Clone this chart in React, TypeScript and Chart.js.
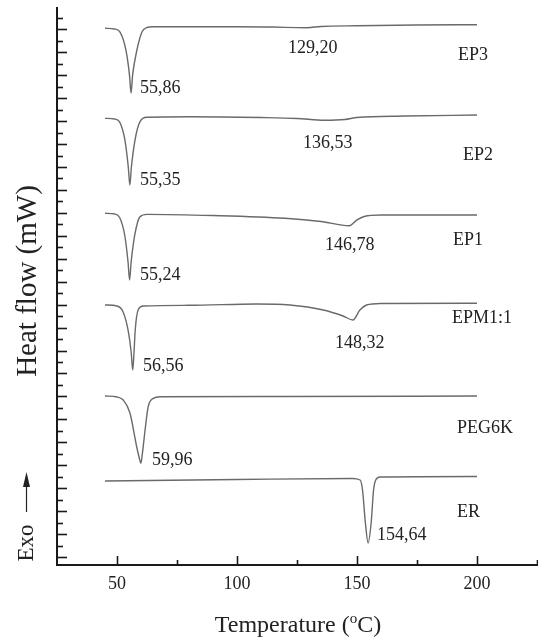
import React, { useEffect, useRef } from "react";
import { Chart, registerables } from "chart.js";
Chart.register(...registerables);

// ---- data (temperature in °C, heat flow in arbitrary mW offset units) ----
const seriesNames = ["EP3", "EP2", "EP1", "EPM1:1", "PEG6K", "ER"];

const ep3T = [45, 49, 51.2, 53.7, 55.2, 55.86, 56.5, 58.3, 60.4, 62.5, 65, 80, 100, 115, 125, 129.2, 135, 150, 175, 200];
const ep3Y = [46.79, 46.73, 46.47, 44.9, 42.71, 41.15, 42.71, 44.9, 46.47, 46.86, 46.92, 46.93, 46.93, 46.9, 46.85, 46.84, 46.95, 47.01, 47.08, 47.1];

const ep2T = [45, 49, 51.25, 53.3, 54.7, 55.35, 56.0, 57.5, 59.6, 62.5, 80, 110, 125, 136.5, 145, 150, 170, 200];
const ep2Y = [38.94, 38.88, 38.56, 37.05, 34.7, 33.13, 34.7, 37.05, 38.65, 39.03, 39.08, 39.01, 38.93, 38.77, 38.84, 39.01, 39.14, 39.23];

const ep1T = [45, 49, 51.1, 53.2, 54.6, 55.24, 55.9, 57.4, 59.5, 62.5, 90, 120, 135, 146.78, 150, 153, 160, 200];
const ep1Y = [30.66, 30.6, 30.29, 28.77, 26.42, 24.85, 26.42, 28.77, 30.34, 30.57, 30.47, 30.23, 29.95, 29.58, 30.08, 30.38, 30.51, 30.51];

const epmT = [45, 50, 52.5, 54.6, 55.9, 56.56, 57.1, 57.6, 58.8, 61, 80, 108, 122, 136, 144.2, 148.32, 151.2, 154, 160, 200];
const epmY = [22.67, 22.58, 22.08, 20.49, 18.57, 17.0, 18.57, 20.49, 22.23, 22.58, 22.64, 22.76, 22.67, 22.23, 21.71, 21.36, 22.23, 22.67, 22.8, 22.82];

const pegT = [45, 50, 52.6, 55.4, 58.2, 59.5, 59.96, 60.5, 61.7, 63.0, 65.1, 68, 120, 200];
const pegY = [14.73, 14.65, 14.38, 13.25, 10.31, 9.15, 8.87, 9.59, 11.77, 13.8, 14.53, 14.67, 14.69, 14.73];

const erT = [45, 100, 148, 151.3, 152.3, 153.5, 154.64, 155.9, 156.9, 157.8, 159.5, 200];
const erY = [7.32, 7.45, 7.54, 7.41, 6.54, 3.66, 1.92, 3.66, 6.54, 7.41, 7.67, 7.72];

const seriesT = [ep3T, ep2T, ep1T, epmT, pegT, erT];
const seriesY = [ep3Y, ep2Y, ep1Y, epmY, pegY, erY];

// peak annotations (text, anchor temperature, anchor heat flow)
const peakText = ["55,86", "129,20", "55,35", "136,53", "55,24", "146,78", "56,56", "148,32", "59,96", "154,64"];
const peakLabelT = [59.58, 121.25, 59.58, 127.5, 59.58, 136.67, 60.83, 140.83, 64.58, 158.33];
const peakLabelY = [41.59, 45.07, 33.56, 36.76, 25.28, 27.9, 17.29, 19.33, 9.15, 2.62];

// series name anchors
const nameT = [192.08, 194.17, 190, 189.58, 191.67, 191.67];
const nameY = [44.46, 35.74, 28.33, 21.51, 11.94, 4.62];

// axis ticks
const xMajorTicks = [50, 100, 150, 200];
const xMinorTicks = [75, 125, 175, 225];
const xMin = 25;
const xMax = 225;
const yMin = 0;
const yMax = 48.56;
const yTickStart = 0.7;
const yTickCount = 48;

const SERIF = '"Liberation Serif", "Times New Roman", serif';
const TEXT = "#222222";
const AXIS = "#1a1a1a";
const CURVE = "#6a6a6a";

const decorPlugin = {
  id: "decor",
  afterDraw(chart: any) {
    const { ctx, chartArea, scales } = chart;
    const xs = scales.x;
    const ys = scales.y;
    ctx.save();
    ctx.strokeStyle = AXIS;
    ctx.lineWidth = 1.6;
    // y ticks (inside)
    for (let k = 0; k < yTickCount; k++) {
      const y = Math.round(ys.getPixelForValue(yTickStart + k)) + 0.5;
      const len = k % 2 === 0 ? 10 : 6;
      ctx.beginPath();
      ctx.moveTo(chartArea.left, y);
      ctx.lineTo(chartArea.left + len, y);
      ctx.stroke();
    }
    // x ticks (inside)
    const drawX = (v: number, len: number) => {
      const x = Math.round(xs.getPixelForValue(v)) + 0.5;
      ctx.beginPath();
      ctx.moveTo(x, chartArea.bottom);
      ctx.lineTo(x, chartArea.bottom - len);
      ctx.stroke();
    };
    xMajorTicks.forEach((v) => drawX(v, 9));
    xMinorTicks.forEach((v) => drawX(v, 5));

    // annotations
    ctx.fillStyle = TEXT;
    ctx.font = `18px ${SERIF}`;
    ctx.textAlign = "left";
    ctx.textBaseline = "middle";
    peakText.forEach((t, i) => {
      ctx.fillText(t, xs.getPixelForValue(peakLabelT[i]), ys.getPixelForValue(peakLabelY[i]));
    });
    seriesNames.forEach((t, i) => {
      ctx.fillText(t, xs.getPixelForValue(nameT[i]), ys.getPixelForValue(nameY[i]));
    });

    // y title
    ctx.save();
    ctx.translate(28, 281);
    ctx.rotate(-Math.PI / 2);
    ctx.textAlign = "center";
    ctx.font = `29px ${SERIF}`;
    ctx.fillText("Heat flow (mW)", 0, 0);
    ctx.restore();

    // Exo with arrow
    ctx.save();
    ctx.translate(27, 543);
    ctx.rotate(-Math.PI / 2);
    ctx.textAlign = "center";
    ctx.font = `23px ${SERIF}`;
    ctx.fillText("Exo", 0, 0);
    ctx.restore();
    ctx.strokeStyle = TEXT;
    ctx.lineWidth = 1.2;
    ctx.beginPath();
    ctx.moveTo(26.5, 512);
    ctx.lineTo(26.5, 484);
    ctx.stroke();
    ctx.beginPath();
    ctx.moveTo(26.5, 472);
    ctx.lineTo(23, 487);
    ctx.lineTo(30, 487);
    ctx.closePath();
    ctx.fill();

    // x title with superscript o
    const cx = 298;
    const cy = 626;
    ctx.textBaseline = "middle";
    ctx.font = `24px ${SERIF}`;
    const p1 = "Temperature (";
    const p3 = "C)";
    const w1 = ctx.measureText(p1).width;
    const w3 = ctx.measureText(p3).width;
    ctx.font = `15px ${SERIF}`;
    const w2 = ctx.measureText("o").width;
    const x0 = cx - (w1 + w2 + w3) / 2;
    ctx.font = `24px ${SERIF}`;
    ctx.fillText(p1, x0, cy);
    ctx.font = `15px ${SERIF}`;
    ctx.fillText("o", x0 + w1, cy - 7);
    ctx.font = `24px ${SERIF}`;
    ctx.fillText(p3, x0 + w1 + w2, cy);
    ctx.restore();
  },
};

export default function App() {
  const ref = useRef<HTMLCanvasElement | null>(null);
  useEffect(() => {
    if (!ref.current) return;
    const datasets = seriesNames.map((name, i) => ({
      label: name,
      data: seriesT[i].map((t, j) => ({ x: t, y: seriesY[i][j] })),
      borderColor: CURVE,
      borderWidth: 1.4,
      pointRadius: 0,
      fill: false,
      cubicInterpolationMode: "monotone" as const,
    }));
    const chart = new Chart(ref.current, {
      type: "line",
      data: { datasets },
      options: {
        animation: false,
        responsive: false,
        devicePixelRatio: 1,
        layout: { padding: { top: 8, right: 1, left: 0, bottom: 0 } },
        plugins: { legend: { display: false }, tooltip: { enabled: false } },
        scales: {
          x: {
            type: "linear",
            min: xMin,
            max: xMax,
            afterBuildTicks: (s: any) => {
              s.ticks = xMajorTicks.map((v) => ({ value: v }));
            },
            afterFit: (s: any) => {
              s.height = 76;
            },
            grid: { display: false, drawTicks: false },
            border: { display: true, color: AXIS, width: 2 },
            ticks: {
              color: TEXT,
              font: { family: SERIF, size: 18 },
              padding: 8,
              maxRotation: 0,
              autoSkip: false,
              callback: (v: any) => String(v),
            },
          },
          y: {
            type: "linear",
            min: yMin,
            max: yMax,
            afterFit: (s: any) => {
              s.width = 57;
            },
            grid: { display: false, drawTicks: false },
            border: { display: true, color: AXIS, width: 2 },
            ticks: { display: false },
          },
        },
      },
      plugins: [decorPlugin],
    });
    return () => chart.destroy();
  }, []);
  return (
    <div style={{ position: "fixed", left: 0, top: 0, width: 538, height: 641, background: "#fff" }}>
      <canvas ref={ref} width={538} height={641} style={{ display: "block" }} />
    </div>
  );
}
